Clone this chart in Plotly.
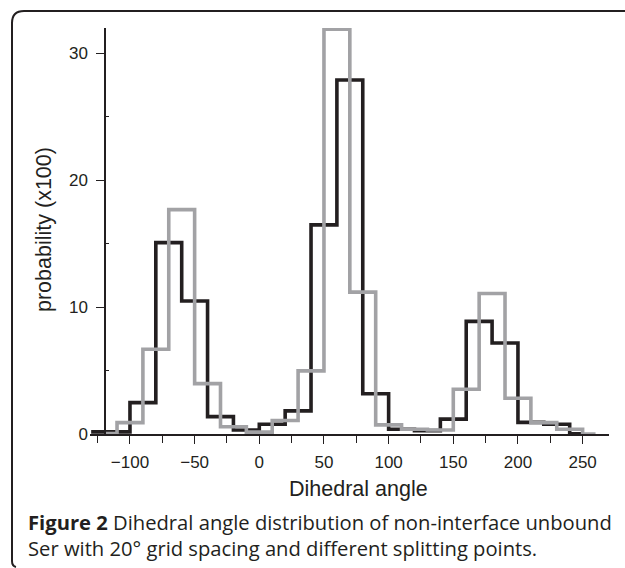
import plotly.graph_objects as go

# Black series: 20-degree bins, centres at -130 ... 250
black_x = [-130, -110, -90, -70, -50, -30, -10, 10, 30, 50, 70, 90, 110, 130, 150, 170, 190, 210, 230, 250]
black_y = [0.2, 0.2, 2.5, 15.1, 10.5, 1.4, 0.35, 0.8, 1.85, 16.5, 27.9, 3.2, 0.4, 0.3, 1.2, 8.9, 7.2, 0.95, 0.8, 0.05]

# Gray series: bins shifted by 10 degrees, centres at -120 ... 260
gray_x = [-120, -100, -80, -60, -40, -20, 0, 20, 40, 60, 80, 100, 120, 140, 160, 180, 200, 220, 240, 260]
gray_y = [0.07, 0.93, 6.7, 17.7, 4.0, 0.6, 0.18, 1.1, 5.0, 31.9, 11.2, 0.75, 0.4, 0.35, 3.55, 11.1, 2.85, 0.93, 0.4, 0.03]

x_ticks = [-100, -50, 0, 50, 100, 150, 200, 250]
y_ticks = [0, 10, 20, 30]

# the page body margin is removed below, so the figure fills the window
W, H = 625, 568
def px(x):
    return x / W
def py(y):
    return 1 - y / H

DARK = "#231f20"
GRAY = "#a2a2a5"

fig = go.Figure()
fig.add_trace(go.Scatter(x=black_x, y=black_y, mode="lines", line_shape="hvh",
                         line=dict(color=DARK, width=3.6), showlegend=False))
fig.add_trace(go.Scatter(x=gray_x, y=gray_y, mode="lines", line_shape="hvh",
                         line=dict(color=GRAY, width=3.6), showlegend=False))

axis_font = dict(family="Liberation Sans, Arial", size=17, color=DARK)

fig.update_layout(
    width=W, height=H, autosize=False,
    margin=dict(l=0, r=0, t=0, b=0, autoexpand=False),
    paper_bgcolor="white", plot_bgcolor="white",
    font=axis_font,
    xaxis=dict(domain=[px(90), px(609)], range=[-130.9, 270.4],
               tickvals=x_ticks, ticks="outside", ticklen=8, tickwidth=1.3,
               tickcolor=DARK, showline=True, linecolor=DARK, linewidth=1.5,
               showgrid=False, zeroline=False, anchor="y", ticklabelstandoff=3,
               minor=dict(ticks="outside", ticklen=7, tickwidth=1.3, tickcolor=DARK,
                          tick0=-75, dtick=50, showgrid=False),
               tickfont=axis_font, automargin=False),
    yaxis=dict(domain=[py(434.4), py(28)], range=[0, 32],
               tickvals=y_ticks, ticks="outside", ticklen=8, tickwidth=1.3,
               tickcolor=DARK, showline=True, linecolor=DARK, linewidth=1.5,
               showgrid=False, zeroline=False, anchor="free", position=px(105),
               ticklabelstandoff=5, automargin=False,
               minor=dict(ticks="inside", ticklen=3, tickwidth=1, tickcolor=DARK,
                          tick0=5, dtick=10, showgrid=False),
               tickfont=axis_font),
)

# axis titles
title_font = dict(family="Liberation Sans, Arial", size=21.5, color=DARK)
fig.add_annotation(x=px(358), y=py(489), xref="paper", yref="paper",
                   xanchor="center", yanchor="middle",
                   text="Dihedral angle", showarrow=False, font=title_font)
fig.add_annotation(x=px(44), y=py(230), xref="paper", yref="paper",
                   xanchor="center", yanchor="middle",
                   text="probability (x100)", showarrow=False, textangle=-90,
                   font=title_font)

# caption (two lines in one text)
cap_font = dict(family="Open Sans", size=20.2, color=DARK)
fig.add_annotation(x=px(26), y=py(535), xref="paper", yref="paper",
                   xanchor="left", yanchor="middle", align="left",
                   text=("<b>Figure 2</b> Dihedral angle distribution of non-interface unbound"
                         "<br>Ser with 20° grid spacing and different splitting points."),
                   showarrow=False, font=cap_font)

# frame
path = (f"M {px(625)},{py(11)} L {px(24)},{py(11)} Q {px(12)},{py(11)} {px(12)},{py(23)} "
        f"L {px(12)},{py(561)} Q {px(12)},{py(566)} {px(16)},{py(567)}")
fig.add_shape(type="path", path=path, xref="paper", yref="paper",
              line=dict(color=DARK, width=2))

fig.write_html("out.html",
               config={"displayModeBar": False},
               post_script="document.body.style.margin='0';"
                           "document.documentElement.style.overflow='hidden';")
